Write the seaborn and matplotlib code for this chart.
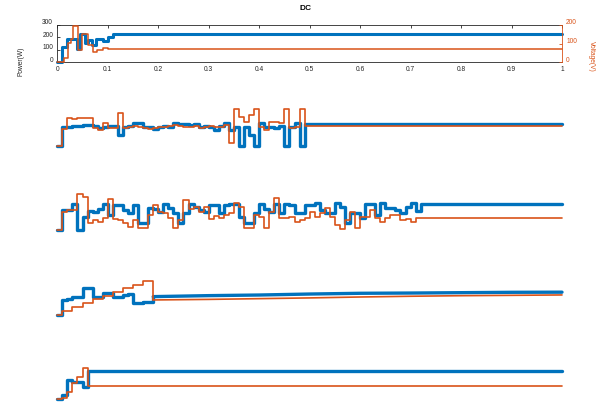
import numpy as np
import matplotlib
matplotlib.use("Agg")
import matplotlib.pyplot as plt
import matplotlib.transforms as mtransforms
import seaborn as sns
from matplotlib.ticker import FormatStrFormatter

BLUE = "#0072BD"
ORANGE = "#D95319"
DARK = "#262626"

# --- panel 1 (DC), irregular sample times
dc_power_t = [0, 0.010, 0.020, 0.040, 0.045, 0.055, 0.061, 0.069, 0.076, 0.091, 0.101, 0.111]
dc_power = [0, 124, 184, 103, 227, 151, 178, 138, 184, 173, 205, 229]
dc_volt_t = [0, 0.013, 0.022, 0.028, 0.032, 0.042, 0.048, 0.061, 0.071, 0.078, 0.091, 0.101]
dc_volt = [0, 20, 104, 122, 196, 65, 150, 92, 56, 65, 74, 68]

# --- panels 2 and 3, sampled every 0.01 s (last value is held to t = 1)
sample_dt = 0.01
p2_power = [0, 153, 159, 164, 164, 172, 172, 164, 145, 159, 164, 164, 91, 159, 164, 191,
            186, 159, 159, 137, 159, 164, 159, 186, 180, 180, 172, 180, 159, 164, 159, 132,
            164, 186, 132, 159, 0, 159, 91, 0, 186, 159, 159, 145, 164, 0, 159, 186, 0, 183]
p2_volt = [0, 91, 151, 145, 154, 154, 154, 97, 88, 127, 100, 100, 178, 100, 106, 109,
           106, 97, 91, 97, 102, 106, 109, 115, 109, 106, 102, 109, 100, 106, 109, 106,
           102, 115, 16, 200, 160, 133, 169, 200, 106, 88, 133, 133, 124, 200, 97, 106, 200, 108]

p3_power = [0, 166, 166, 215, 0, 107, 161, 153, 172, 215,
            126, 207, 207, 166, 139, 207, 58, 58, 180, 172,
            153, 215, 180, 139, 64, 139, 215, 193, 166, 153,
            207, 207, 139, 207, 215, 215, 107, 64, 64, 139,
            215, 172, 153, 215, 139, 215, 207, 139, 139, 207,
            207, 220, 166, 139, 139, 220, 193, 58, 139, 139,
            99, 215, 215, 126, 220, 180, 180, 166, 139, 193,
            220, 161, 215]
p3_volt = [0, 102, 111, 111, 197, 183, 39, 57, 48, 66,
           168, 60, 57, 39, 21, 57, 12, 12, 84, 138,
           102, 93, 66, 12, 57, 165, 114, 129, 102, 129,
           60, 78, 66, 84, 93, 150, 129, 12, 12, 84,
           75, 12, 102, 174, 66, 66, 75, 48, 57, 66,
           102, 75, 93, 120, 71, 30, 6, 57, 102, 12,
           71, 71, 111, 66, 48, 66, 84, 84, 57, 60,
           48, 66, 69]

# --- panel 4: steps up to 0.19 s, then a slow drift
p4_step_t = [0, 0.01, 0.02, 0.03, 0.04, 0.05, 0.06, 0.07, 0.08, 0.09, 0.10, 0.11, 0.12,
             0.13, 0.14, 0.15, 0.16, 0.17, 0.18, 0.19]
p4_step_power = [0, 120, 125, 147, 147, 214, 214, 147, 147, 174, 174, 141, 141, 160,
                 168, 93, 93, 106, 106, 147]
p4_step_volt = [0, 22, 22, 44, 44, 62, 62, 83, 83, 101, 101, 125, 125, 143,
                143, 161, 161, 184, 184, 80]
p4_drift_t = [0.19, 0.3, 0.4, 0.5, 0.6, 0.7, 0.8, 0.9, 1.0]
p4_drift_power = [147, 155, 160, 168, 174, 176, 179, 182, 183]
p4_drift_volt = [80, 83, 87, 91, 96, 100, 103, 105, 107]

# --- panel 5
p5_t = [0, 0.01, 0.02, 0.03, 0.04, 0.05, 0.06]
p5_power = [0, 32, 154, 141, 141, 95, 227]
p5_volt = [0, 4, 40, 85, 121, 166, 70]

x_ticks = [0, 0.1, 0.2, 0.3, 0.4, 0.5, 0.6, 0.7, 0.8, 0.9, 1]
power_ticks = [0, 100, 200, 300]
volt_ticks = [0, 100, 200]

sns.set_style("white")
plt.rcParams["font.family"] = ["Liberation Sans", "DejaVu Sans"]

W, H = 607, 404
X0, X1 = 57.3, 562.0


def panel_rect(top, height=37.0):
    return [X0 / W, 1 - (top + height) / H, (X1 - X0) / W, height / H]


def hold_to_end(t, v):
    """Repeat the last sample at t = 1 so steps-post draws the final level."""
    t, v = list(t), list(v)
    if t[-1] < 1.0:
        t.append(1.0)
        v.append(v[-1])
    return t, v


def step_line(ax, t, v, color, lw, hold=True, style="steps-post"):
    if hold:
        t, v = hold_to_end(t, v)
    sns.lineplot(x=list(t), y=list(v), ax=ax, color=color, linewidth=lw, drawstyle=style,
                 errorbar=None, clip_on=False)


def make_pair(rect):
    ax = fig.add_axes(rect)
    ax2 = ax.twinx()
    ax.set_xlim(0, 1)
    ax.set_ylim(0, 300)
    ax2.set_ylim(0, 200)
    return ax, ax2


fig = plt.figure(figsize=(6.07, 4.04), dpi=100)

# top panel with axes
ax, ax2 = make_pair(panel_rect(25.0))
step_line(ax, dc_power_t, dc_power, BLUE, 2.2)
step_line(ax2, dc_volt_t, dc_volt, ORANGE, 1.1)
ax.set_xlim(0, 1)
ax.set_ylim(0, 300)
ax2.set_ylim(0, 200)
ax.set_xticks(x_ticks)
ax.xaxis.set_major_formatter(FormatStrFormatter("%g"))
ax.set_yticks(power_ticks)
ax2.set_yticks(volt_ticks)
ax.tick_params(direction="in", length=2.4, width=0.6, labelsize=4.8, colors=DARK,
               top=True, right=False, pad=3)
ax2.tick_params(direction="in", length=2.4, width=0.6, labelsize=4.8, colors=ORANGE, pad=3)
for s in ["top", "bottom", "left"]:
    ax.spines[s].set_color(DARK)
    ax.spines[s].set_linewidth(0.6)
    ax2.spines[s].set_visible(False)
ax.spines["right"].set_visible(False)
ax2.spines["right"].set_color(ORANGE)
ax2.spines["right"].set_linewidth(0.6)
ax.set_xlabel("")
ax.set_ylabel("Power(W)", fontsize=4.8, color=DARK)
ax.yaxis.set_label_coords(-0.064, 0.03)
ax2.set_ylabel("Voltage(V)", fontsize=4.8, color=ORANGE, rotation=-90, va="bottom")
ax2.yaxis.set_label_coords(1.0515, 0.14)
# y tick labels sit a little above their ticks in the original
lift = mtransforms.ScaledTranslation(0, 3 / 100, fig.dpi_scale_trans)
for lab in ax.get_yticklabels() + ax2.get_yticklabels():
    lab.set_transform(lab.get_transform() + lift)
fig.text(305.5 / W, 1 - 9 / H, "DC", ha="center", va="center", fontsize=6,
         fontweight="bold", color="black")

# bare panels below
tops = [109.25, 193.5, 277.75, 362.0]
for top, (pw, vo) in zip(tops[:2], [(p2_power, p2_volt), (p3_power, p3_volt)]):
    a, a2 = make_pair(panel_rect(top))
    t = np.arange(len(pw)) * sample_dt
    step_line(a, t, pw, BLUE, 2.4)
    step_line(a2, t, vo, ORANGE, 1.2)
    a.axis("off")
    a2.axis("off")

a, a2 = make_pair(panel_rect(tops[2]))
step_line(a, p4_step_t, p4_step_power, BLUE, 2.4, hold=False)
step_line(a, p4_drift_t, p4_drift_power, BLUE, 2.4, hold=False, style="default")
step_line(a2, p4_step_t, p4_step_volt, ORANGE, 1.2, hold=False)
step_line(a2, p4_drift_t, p4_drift_volt, ORANGE, 1.2, hold=False, style="default")
a.axis("off")
a2.axis("off")

a, a2 = make_pair(panel_rect(tops[3]))
step_line(a, p5_t, p5_power, BLUE, 2.4)
step_line(a2, p5_t, p5_volt, ORANGE, 1.2)
a.axis("off")
a2.axis("off")

fig.savefig("out.png", dpi=100)
